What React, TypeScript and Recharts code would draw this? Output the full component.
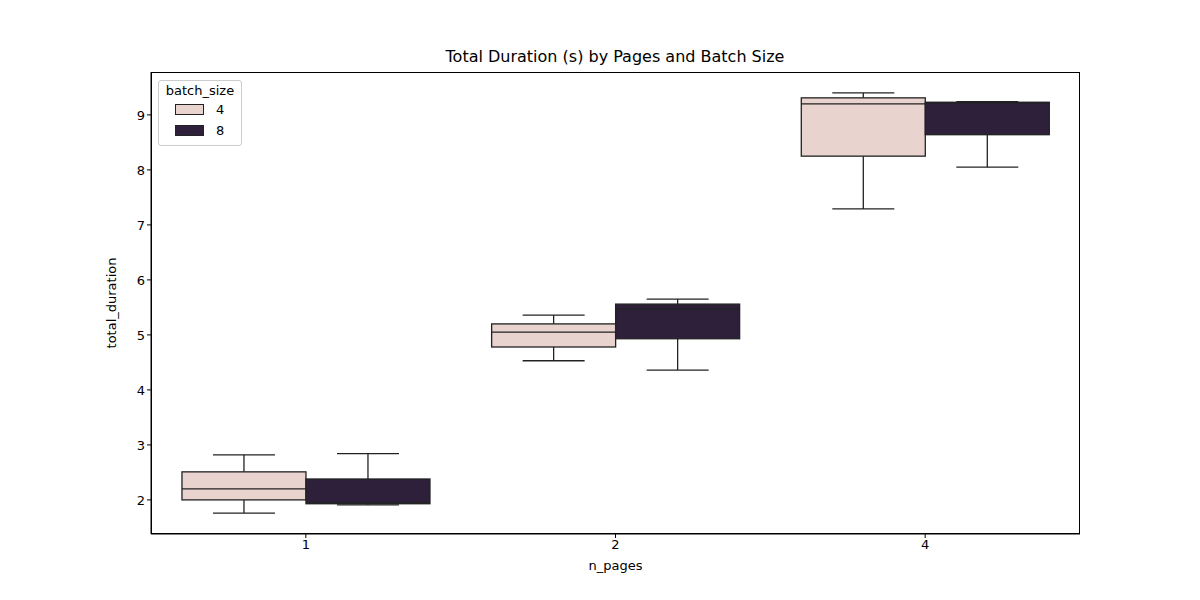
import React from "react";
import { ComposedChart, Bar, XAxis, YAxis } from "recharts";

const pages = ["1", "2", "4"];
// [low whisker, q1, median, q3, high whisker]
const batch4 = [
  [1.76, 2.0, 2.2, 2.51, 2.82],
  [4.53, 4.78, 5.05, 5.2, 5.36],
  [7.29, 8.25, 9.2, 9.31, 9.4],
];
const batch8 = [
  [1.91, 1.93, 1.95, 2.38, 2.84],
  [4.36, 4.93, 5.47, 5.56, 5.65],
  [8.05, 8.64, 9.22, 9.23, 9.24],
];
const yTicks = [2, 3, 4, 5, 6, 7, 8, 9];

const COLOR4 = "#e8d3cf";
const COLOR8 = "#2e1f3b";
const EDGE = "#222222";
const FONT = "DejaVu Sans, sans-serif";

const data = pages.map((p, i) => ({ page: p, b4: batch4[i], b8: batch8[i] }));

const makeBox = (key: "b4" | "b8", fill: string) => (props: any) => {
  const { x, y, width, height, payload } = props;
  const [lo, q1, med, q3, hi] = payload[key];
  const pix = (v: number) => y + (height * (hi - v)) / (hi - lo);
  const cx = x + width / 2;
  const cap = width / 4;
  return (
    <g stroke={EDGE} strokeWidth={1.3} fill="none">
      <line x1={cx} x2={cx} y1={pix(hi)} y2={pix(q3)} />
      <line x1={cx} x2={cx} y1={pix(q1)} y2={pix(lo)} />
      <line x1={cx - cap} x2={cx + cap} y1={pix(hi)} y2={pix(hi)} />
      <line x1={cx - cap} x2={cx + cap} y1={pix(lo)} y2={pix(lo)} />
      <rect x={x} y={pix(q3)} width={width} height={pix(q1) - pix(q3)} fill={fill} />
      <line x1={x} x2={x + width} y1={pix(med)} y2={pix(med)} />
    </g>
  );
};

const LegendBox = () => (
  <div
    style={{
      position: "absolute",
      left: 158,
      top: 80,
      border: "1px solid #cccccc",
      borderRadius: 3,
      background: "rgba(255,255,255,0.8)",
      padding: "2px 6px 4px 6px",
      fontSize: 13,
      color: "#000",
      width: 70,
    }}
  >
    <div style={{ textAlign: "center", marginBottom: 1 }}>batch_size</div>
    {[["4", COLOR4], ["8", COLOR8]].map(([l, c]) => (
      <div key={l} style={{ display: "flex", alignItems: "center", height: 21 }}>
        <span
          style={{
            display: "inline-block",
            width: 27,
            height: 9,
            background: c,
            border: `1px solid ${EDGE}`,
            marginLeft: 10,
            marginRight: 12,
          }}
        />
        {l}
      </div>
    ))}
  </div>
);

export default function App() {
  return (
    <div style={{ position: "absolute", left: 0, top: 0, width: 1200, height: 600, background: "#fff", fontFamily: FONT }}>
      <div style={{ position: "absolute", top: 47, width: 1200, left: 15, textAlign: "center", fontSize: 16 }}>
        Total Duration (s) by Pages and Batch Size
      </div>
      <ComposedChart
        width={1200}
        height={600}
        data={data}
        margin={{ top: 72, right: 120, bottom: 16, left: 101 }}
        barCategoryGap="10%"
        barGap={0}
      >
        <XAxis
          dataKey="page"
          tickSize={4}
          height={50}
          stroke="#000"
          tick={{ fill: "#000", fontSize: 13, fontFamily: FONT }}
          label={{ value: "n_pages", position: "insideBottom", offset: 14, fill: "#000", fontSize: 13, fontFamily: FONT }}
        />
        <YAxis
          type="number"
          domain={[1.38, 9.78]}
          ticks={yTicks}
          tickSize={4}
          width={50}
          stroke="#000"
          allowDataOverflow
          tick={{ fill: "#000", fontSize: 13, fontFamily: FONT }}
          label={{ value: "total_duration", angle: -90, position: "insideLeft", offset: 10, fill: "#000", fontSize: 13, fontFamily: FONT, style: { textAnchor: "middle" } }}
        />
        <Bar dataKey={(d: any) => [d.b4[0], d.b4[4]]} shape={makeBox("b4", COLOR4)} isAnimationActive={false} />
        <Bar dataKey={(d: any) => [d.b8[0], d.b8[4]]} shape={makeBox("b8", COLOR8)} isAnimationActive={false} />
      </ComposedChart>
      <div
        style={{
          position: "absolute",
          left: 151,
          top: 72,
          width: 929,
          height: 462,
          border: "1px solid #000",
          boxSizing: "border-box",
          pointerEvents: "none",
        }}
      />
      <LegendBox />
    </div>
  );
}
